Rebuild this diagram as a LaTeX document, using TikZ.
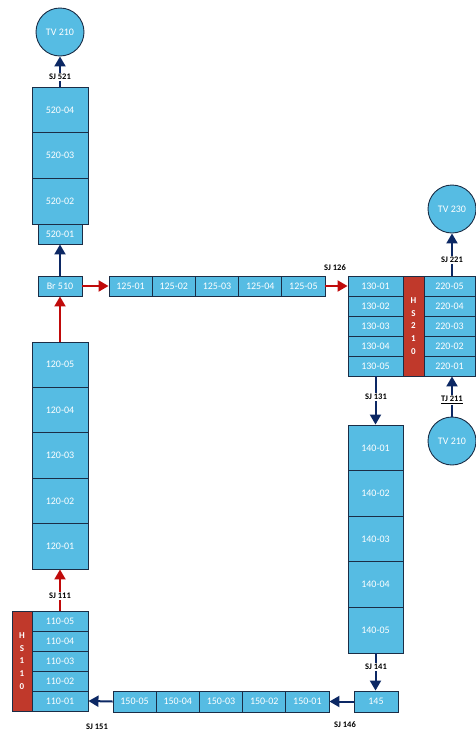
\documentclass[tikz,border=0pt]{standalone}
\usepackage{fontspec}
\setmainfont{Carlito}
\usetikzlibrary{arrows.meta}
\definecolor{cellblue}{RGB}{86,188,227}
\definecolor{cellline}{RGB}{27,45,70}
\definecolor{hsred}{RGB}{192,57,43}
\definecolor{arrred}{RGB}{192,10,10}
\definecolor{arrnavy}{RGB}{12,40,100}
\tikzset{
  cell/.style={draw=cellline, line width=0.9pt, fill=cellblue, text=white, font=\fontsize{10}{11}\selectfont, inner sep=0pt},
  cv/.style={cell, minimum width=56pt, minimum height=45.6pt},
  ch/.style={cell, minimum width=43.2pt, minimum height=20pt},
  cs/.style={cell, minimum height=20pt},
  hs/.style={draw=cellline, line width=0.9pt, fill=hsred, text=white, font=\bfseries\fontsize{9}{12.8}\selectfont, align=center, inner sep=0pt, minimum height=100pt},
  tv/.style={circle, draw=cellline, line width=0.9pt, fill=cellblue, text=white, font=\fontsize{10}{11}\selectfont, minimum size=48pt, inner sep=0pt},
  lbl/.style={fill=white, inner sep=1pt, font=\bfseries\fontsize{8.5}{9}\selectfont, text=black},
  redarr/.style={draw=arrred, line width=2pt, -{Triangle[width=11pt,length=10pt]}},
  navarr/.style={draw=arrnavy, line width=2pt, -{Triangle[width=11pt,length=10pt]}}
}
\begin{document}
\begin{tikzpicture}[x=1pt,y=-1pt]
\useasboundingbox (0,0) rectangle (476,731);
% top left column
\node[tv] (tv1) at (60,32) {TV 210};
\node[cv] (c52004) at (60,109.8) {520-04};
\node[cv] (c52003) at (60,155.5) {520-03};
\node[cv] (c52002) at (60,201.2) {520-02};
\node[cs, minimum width=44pt] (c52001) at (60,234) {520-01};
\node[cs, minimum width=44pt] (br) at (60,286) {Br 510};
% 125 row
\node[ch] (c12501) at (130.6,286) {125-01};
\node[ch] (c12502) at (173.8,286) {125-02};
\node[ch] (c12503) at (217,286) {125-03};
\node[ch] (c12504) at (260.2,286) {125-04};
\node[ch] (c12505) at (303.4,286) {125-05};
% right block
\node[cs, minimum width=55pt] (c13001) at (375.5,286) {130-01};
\node[cs, minimum width=55pt] (c13002) at (375.5,306) {130-02};
\node[cs, minimum width=55pt] (c13003) at (375.5,326) {130-03};
\node[cs, minimum width=55pt] (c13004) at (375.5,346) {130-04};
\node[cs, minimum width=55pt] (c13005) at (375.5,366) {130-05};
\node[hs, minimum width=21pt] (hs210) at (413.5,326) {H\\S\\2\\1\\0};
\node[cs, minimum width=51pt] (c22005) at (449.5,286) {220-05};
\node[cs, minimum width=51pt] (c22004) at (449.5,306) {220-04};
\node[cs, minimum width=51pt] (c22003) at (449.5,326) {220-03};
\node[cs, minimum width=51pt] (c22002) at (449.5,346) {220-02};
\node[cs, minimum width=51pt] (c22001) at (449.5,366) {220-01};
\node[tv] (tv230) at (452,209) {TV 230};
\node[tv] (tv210b) at (452,441) {TV 210};
% 140 column
\node[cv, minimum width=55pt] (c14001) at (375.5,447.8) {140-01};
\node[cv, minimum width=55pt] (c14002) at (375.5,493.4) {140-02};
\node[cv, minimum width=55pt] (c14003) at (375.5,539) {140-03};
\node[cv, minimum width=55pt] (c14004) at (375.5,584.6) {140-04};
\node[cv, minimum width=55pt] (c14005) at (375.5,630.2) {140-05};
\node[cs, minimum width=44pt, minimum height=21pt] (b145) at (376,701.5) {145};
% 150 row
\node[ch, minimum height=21pt] (c15001) at (307.4,701.5) {150-01};
\node[ch, minimum height=21pt] (c15002) at (264.2,701.5) {150-02};
\node[ch, minimum height=21pt] (c15003) at (221,701.5) {150-03};
\node[ch, minimum height=21pt] (c15004) at (177.8,701.5) {150-04};
\node[ch, minimum height=21pt] (c15005) at (134.6,701.5) {150-05};
% bottom left block
\node[hs, minimum width=20pt] (hs110) at (22,661) {H\\S\\1\\1\\0};
\node[cs, minimum width=56pt] (c11005) at (60,621) {110-05};
\node[cs, minimum width=56pt] (c11004) at (60,641) {110-04};
\node[cs, minimum width=56pt] (c11003) at (60,661) {110-03};
\node[cs, minimum width=56pt] (c11002) at (60,681) {110-02};
\node[cs, minimum width=56pt] (c11001) at (60,701) {110-01};
% 120 column
\node[cv, minimum height=45.4pt] (c12005) at (60,364.7) {120-05};
\node[cv, minimum height=45.4pt] (c12004) at (60,410.1) {120-04};
\node[cv, minimum height=45.4pt] (c12003) at (60,455.5) {120-03};
\node[cv, minimum height=45.4pt] (c12002) at (60,500.9) {120-02};
\node[cv, minimum height=45.4pt] (c12001) at (60,546.3) {120-01};
% connectors
\draw[navarr] (c52004.north) -- (tv1.south);
\draw[navarr] (br.north) -- (c52001.south);
\draw[redarr] (br.east) -- (c12501.west);
\draw[redarr] (c12505.east) -- (c13001.west);
\draw[navarr] (c22005.north -| tv230.south) -- (tv230.south);
\draw[navarr] (tv210b.north) -- (c22001.south -| tv210b.north);
\draw[navarr] (c13005.south) -- (c14001.north);
\draw[navarr] (c14005.south) -- (b145.north -| c14005.south);
\draw[navarr] (b145.west) -- (c15001.east);
\draw[navarr] (c15005.west) -- (c11001.east);
\draw[redarr] (c11005.north) -- (c12001.south);
\draw[redarr] (c12005.north) -- (br.south);
% labels
\node[lbl] (l521) at (60,77) {SJ 521};
\node[lbl] (l126) at (335,268) {SJ 126};
\node[lbl] (l221) at (452,260) {SJ 221};
\node[lbl] (l131) at (376,397) {SJ 131};
\node[lbl] (l211) at (452,400) {\underline{TJ 211}};
\node[lbl] (l141) at (376,667) {SJ 141};
\node[lbl] (l146) at (345,725) {SJ 146};
\node[lbl] (l151) at (97,727) {SJ 151};
\node[lbl] (l111) at (60,596) {SJ 111};
\end{tikzpicture}
\end{document}
